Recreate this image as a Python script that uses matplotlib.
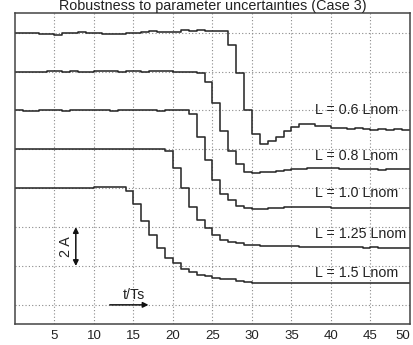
import matplotlib
matplotlib.use("Agg")
import matplotlib.pyplot as plt
import numpy as np

plt.rcParams["font.family"] = ["Liberation Sans", "DejaVu Sans"]

# phase current (A, stacked with offsets) sampled once per Ts
t_samples = np.arange(51)

i_06 = [15.98, 15.98, 15.98, 15.95, 15.95, 15.91, 16.0, 15.98, 16.05, 15.98,
        15.98, 15.93, 15.96, 15.96, 16.0, 16.0, 16.02, 16.07, 16.02, 16.03,
        16.03, 16.15, 16.1, 16.12, 16.07, 16.07, 16.07, 15.38, 13.94, 12.04,
        10.77, 10.29, 10.42, 10.63, 10.92, 11.14, 11.28, 11.28, 11.22, 11.18,
        11.12, 11.08, 11.05, 11.08, 11.04, 11.02, 11.05, 11.0, 11.03, 10.99]
i_08 = [14.0, 14.0, 13.97, 13.97, 14.02, 14.02, 14.0, 14.03, 14.0, 13.98,
        14.05, 14.05, 14.02, 14.0, 14.03, 14.03, 14.0, 14.02, 14.05, 14.03,
        14.0, 13.98, 13.96, 13.95, 13.46, 12.38, 10.92, 9.9, 9.27, 8.84,
        8.77, 8.84, 8.86, 8.9, 8.93, 8.97, 9.0, 9.04, 9.06, 9.05,
        9.03, 9.0, 8.98, 9.0, 8.97, 8.98, 8.96, 8.98, 8.97, 8.98]
i_10 = [12.0, 11.98, 11.98, 12.02, 12.0, 12.0, 11.97, 12.0, 12.03, 12.02,
        12.0, 12.0, 11.98, 12.0, 12.03, 12.03, 12.0, 12.0, 11.98, 12.0,
        12.02, 12.0, 11.8, 10.63, 9.43, 8.44, 7.72, 7.37, 7.11, 7.0,
        6.95, 6.95, 6.97, 7.0, 7.02, 7.04, 7.05, 7.04, 7.03, 7.02,
        7.0, 6.99, 7.0, 6.98, 6.99, 6.97, 6.99, 6.98, 6.99, 6.98]
i_125 = [10.02, 10.0, 10.0, 10.03, 10.03, 10.0, 10.0, 10.02, 10.04, 10.02,
         10.0, 10.0, 10.03, 10.02, 10.0, 10.02, 10.04, 10.02, 10.0, 9.91,
         9.04, 8.01, 7.06, 6.38, 5.95, 5.6, 5.34, 5.25, 5.17, 5.1,
         5.06, 5.05, 5.04, 5.05, 5.03, 5.01, 4.99, 4.97, 4.96, 4.98,
         4.99, 4.97, 4.96, 4.97, 4.95, 4.96, 4.94, 4.95, 4.94, 4.95]
i_15 = [8.0, 8.02, 8.02, 8.0, 8.03, 8.03, 8.02, 8.0, 8.02, 8.03,
        8.05, 8.05, 8.08, 8.06, 7.86, 7.2, 6.3, 5.6, 4.92, 4.4,
        4.13, 3.87, 3.69, 3.56, 3.46, 3.39, 3.33, 3.31, 3.23, 3.2,
        3.13, 3.12, 3.11, 3.12, 3.1, 3.11, 3.1, 3.11, 3.12, 3.1,
        3.11, 3.12, 3.1, 3.11, 3.12, 3.11, 3.13, 3.12, 3.11, 3.14]

curves = [i_06, i_08, i_10, i_125, i_15]
labels = ["L = 0.6 Lnom", "L = 0.8 Lnom", "L = 1.0 Lnom",
          "L = 1.25 Lnom", "L = 1.5 Lnom"]
label_y = [12.0, 9.68, 7.74, 5.66, 3.65]

x_ticks = [5, 10, 15, 20, 25, 30, 35, 40, 45, 50]
y_grid = [2, 4, 6, 8, 10, 12, 14, 16]

fig = plt.figure(figsize=(4.14, 3.45), dpi=100)
ax = fig.add_axes([0.0362, 0.06, 0.9541, 0.9014])

for vals in curves:
    y = list(vals) + [vals[-1]]
    ax.step(t_samples, y, where="post", color="#2a2a2a", linewidth=1.15)

for txt, yy in zip(labels, label_y):
    ax.text(38, yy, txt, fontsize=10.3, color="#222222", ha="left", va="center")

# 2 A scale bar
ax.annotate("", xy=(7.7, 4.0), xytext=(7.7, 6.0),
            arrowprops=dict(arrowstyle="<|-|>", color="#111111", lw=1.1,
                            mutation_scale=8, shrinkA=0, shrinkB=0))
ax.text(6.4, 5.0, "2 A", rotation=90, fontsize=10.3, ha="center", va="center",
        color="#222222")

# time axis marker
ax.annotate("", xy=(16.9, 2.0), xytext=(12.0, 2.0),
            arrowprops=dict(arrowstyle="-|>", color="#111111", lw=1.1,
                            mutation_scale=8, shrinkA=0, shrinkB=0))
ax.text(15.1, 2.5, "t/Ts", fontsize=10.3, ha="center", va="center", color="#222222")

ax.set_xlim(0, 50)
ax.set_ylim(1, 17)
ax.set_xticks(x_ticks)
ax.set_yticks(y_grid)
ax.set_yticklabels([])
ax.tick_params(axis="both", length=0, labelsize=9.5, pad=4, colors="#222222")
ax.get_xticklabels()[-1].set_horizontalalignment("right")
ax.grid(True, linestyle=(0, (1, 2)), color="#8a8a8a", linewidth=0.8)
for s in ax.spines.values():
    s.set_color("#444444")
    s.set_linewidth(1.1)

ax.set_title("Robustness to parameter uncertainties (Case 3)", fontsize=10.4,
             pad=1.0, color="#222222")

fig.savefig("out.png", dpi=100)
